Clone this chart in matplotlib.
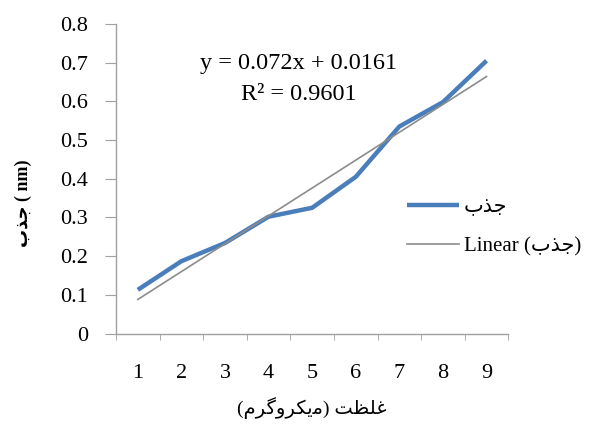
import numpy as np
import matplotlib
matplotlib.use("Agg")
import matplotlib.pyplot as plt

plt.rcParams['font.family'] = ['Liberation Serif', 'DejaVu Sans']

# data
x = np.arange(1, 10)
absorb = [0.113, 0.187, 0.234, 0.302, 0.325, 0.405, 0.535, 0.598, 0.705]

# trend line from the equation printed on the chart
slope = 0.072
intercept = 0.0161
eq_text = "y = 0.072x + 0.0161"
r2_text = "R\u00b2 = 0.9601"

y_ticks = [0, 0.1, 0.2, 0.3, 0.4, 0.5, 0.6, 0.7, 0.8]
y_labels = ["0", "0.1", "0.2", "0.3", "0.4", "0.5", "0.6", "0.7", "0.8"]

# Arabic / Persian words, pre-shaped (presentation forms, visual order)
jazb = "\uFE8F\uFEAC\uFE9F"                                         # جذب
ghelzat = "\uFE96\uFEC8\uFEE0\uFECF"                                # غلظت
microgram = "\uFEE1\uFEAE\uFB94\uFEED\uFEAE\uFB91\uFBFE\uFEE3"      # میکروگرم

fig = plt.figure(figsize=(5.89, 4.36), dpi=100)
ax = fig.add_axes([0.197, 0.235, 0.666, 0.71])

ax.plot(x, absorb, color='#4a7ebb', lw=3.2, solid_capstyle='butt', label=jazb)
ax.plot(x, slope * x + intercept, color='#8c8c8c', lw=1.2,
        label="Linear (" + jazb + ")")

ax.set_xlim(0.5, 9.5)
ax.set_ylim(0, 0.8)
ax.set_yticks(y_ticks)
ax.set_yticklabels(y_labels)
ax.set_xticks(x)
ax.set_xticks(np.arange(0.5, 10, 1), minor=True)
ax.tick_params(axis='x', which='major', length=0, pad=22, labelsize=16)
ax.tick_params(axis='x', which='minor', length=4, color='#a0a0a0', direction='out')
ax.tick_params(axis='y', length=8, color='#a0a0a0', labelsize=16, pad=12)

for s in ['top', 'right']:
    ax.spines[s].set_visible(False)
for s in ['left', 'bottom']:
    ax.spines[s].set_color('#a0a0a0')
    ax.spines[s].set_linewidth(1.0)

ax.text(0.465, 0.853, eq_text, transform=ax.transAxes, ha='center', fontsize=17.5)
ax.text(0.465, 0.756, r2_text, transform=ax.transAxes, ha='center', fontsize=17.5)

ax.legend(loc='upper left', bbox_to_anchor=(0.695, 0.50), frameon=False,
          fontsize=15, handlelength=2.5, handletextpad=0.2, labelspacing=0.95)

ax.set_xlabel("(" + microgram + ") " + ghelzat, fontsize=14, labelpad=10)
ax.set_ylabel(jazb + " ( nm)", fontsize=13, fontweight='bold')
ax.yaxis.set_label_coords(-0.215, 0.42)

fig.savefig("out.png", dpi=100)
